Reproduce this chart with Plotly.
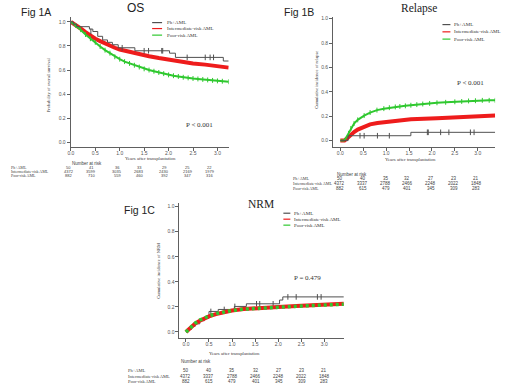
import plotly.graph_objects as go

W, H = 520, 390


def px(x):
    return x / W


def py(y):
    return 1 - y / H


# ---------------- DATA ----------------
groups = ["Ph+AML", "Intermediate-risk AML", "Poor-risk AML"]
x_ticks = [0.0, 0.5, 1.0, 1.5, 2.0, 2.5, 3.0]
y_ticks = [0.0, 0.2, 0.4, 0.6, 0.8, 1.0]

# Fig 1A  OS
os_ph_t = [0, 0.05, 0.12, 0.38, 0.45, 0.55, 0.65, 0.75, 0.85, 0.97, 1.31, 2.02, 2.14, 3.12, 3.23]
os_ph_s = [1.0, 0.98, 0.96, 0.94, 0.92, 0.88, 0.85, 0.83, 0.81, 0.785, 0.76, 0.74, 0.705, 0.675, 0.675]
os_ph_cens_t = [0.41, 1.05, 1.5, 1.59, 1.86, 1.88, 2.38, 2.75, 2.85, 2.92]
os_ph_cens_s = [0.92, 0.785, 0.76, 0.76, 0.76, 0.76, 0.705, 0.705, 0.705, 0.705]
os_int_t = [0, 0.1, 0.2, 0.3, 0.4, 0.5, 0.6, 0.7, 0.8, 0.9, 1.0, 1.2, 1.4, 1.6, 1.8, 2.0, 2.25, 2.5, 2.75, 3.0, 3.23]
os_int_s = [1.0, 0.975, 0.945, 0.915, 0.885, 0.86, 0.84, 0.82, 0.80, 0.785, 0.77, 0.75, 0.73, 0.715, 0.70, 0.685, 0.67, 0.655, 0.645, 0.636, 0.62]
os_poor_t = [0, 0.1, 0.2, 0.3, 0.4, 0.5, 0.6, 0.7, 0.8, 0.9, 1.0, 1.1, 1.2, 1.3, 1.4, 1.5, 1.6, 1.7, 1.8, 1.9, 2.0,
             2.1, 2.2, 2.3, 2.4, 2.5, 2.6, 2.7, 2.8, 2.9, 3.0, 3.1, 3.23]
os_poor_s = [1.0, 0.97, 0.935, 0.895, 0.86, 0.83, 0.795, 0.765, 0.74, 0.71, 0.69, 0.67, 0.655, 0.64, 0.625, 0.61, 0.60,
             0.59, 0.58, 0.57, 0.56, 0.553, 0.547, 0.54, 0.535, 0.53, 0.526, 0.522, 0.518, 0.514, 0.51, 0.507, 0.503]
os_risk = [[50, 41, 36, 33, 29, 25, 22],
           [4372, 3599, 3035, 2683, 2430, 2169, 1979],
           [882, 710, 559, 460, 392, 347, 316]]

# Fig 1B  Relapse
rel_ph_t = [0, 0.17, 1.54, 3.38]
rel_ph_c = [0, 0.04, 0.068, 0.068]
rel_ph_cens_t = [0.43, 0.52, 0.81, 1.07, 1.9, 1.92, 2.19, 2.37, 2.84, 2.92]
rel_ph_cens_c = [0.04, 0.04, 0.04, 0.04, 0.068, 0.068, 0.068, 0.068, 0.068, 0.068]
rel_int_t = [0, 0.09, 0.15, 0.23, 0.3, 0.38, 0.52, 0.65, 0.81, 1.07, 1.3, 1.54, 2.11, 2.7, 3.38]
rel_int_c = [0, 0, 0.02, 0.05, 0.07, 0.09, 0.117, 0.133, 0.145, 0.157, 0.167, 0.175, 0.184, 0.195, 0.206]
rel_poor_t = [0, 0.08, 0.12, 0.18, 0.23, 0.3, 0.38, 0.52, 0.65, 0.8, 0.95, 1.07, 1.2, 1.3, 1.42, 1.54, 1.67, 1.8,
              1.95, 2.11, 2.3, 2.5, 2.65, 2.8, 2.95, 3.1, 3.25, 3.38]
rel_poor_c = [0, 0, 0.02, 0.06, 0.10, 0.14, 0.17, 0.205, 0.23, 0.25, 0.262, 0.27, 0.276, 0.28, 0.285, 0.29, 0.295,
              0.30, 0.305, 0.31, 0.314, 0.318, 0.321, 0.325, 0.327, 0.33, 0.33, 0.33]
rel_risk = [[50, 40, 35, 32, 27, 23, 21],
            [4372, 3337, 2788, 2466, 2248, 2022, 1848],
            [882, 615, 479, 401, 345, 309, 283]]

# Fig 1C  NRM
nrm_ph_t = [0, 0.05, 0.12, 0.2, 0.3, 0.4, 0.5, 0.7, 1.05, 1.31, 2.03, 2.1, 3.42]
nrm_ph_c = [0, 0.02, 0.045, 0.065, 0.09, 0.11, 0.164, 0.18, 0.204, 0.225, 0.255, 0.28, 0.28]
nrm_ph_cens_t = [0.54, 0.83, 1.06, 1.53, 1.6, 1.89, 2.21, 2.39, 2.85, 2.93]
nrm_ph_cens_c = [0.164, 0.18, 0.204, 0.225, 0.225, 0.225, 0.28, 0.28, 0.28, 0.28]
nrm_int_t = [0, 0.1, 0.2, 0.3, 0.4, 0.5, 0.65, 0.8, 1.0, 1.25, 1.5, 1.75, 2.0, 2.5, 3.0, 3.42]
nrm_int_c = [0, 0.035, 0.067, 0.09, 0.11, 0.125, 0.143, 0.158, 0.172, 0.183, 0.19, 0.196, 0.20, 0.21, 0.218, 0.225]
nrm_poor_t = [0, 0.1, 0.2, 0.3, 0.4, 0.5, 0.65, 0.8, 1.0, 1.25, 1.5, 1.75, 2.0, 2.5, 3.0, 3.42]
nrm_poor_c = [0, 0.04, 0.07, 0.095, 0.113, 0.128, 0.146, 0.16, 0.172, 0.182, 0.188, 0.194, 0.198, 0.207, 0.215, 0.222]
nrm_risk = [[50, 40, 35, 32, 27, 23, 21],
            [4372, 3337, 2788, 2466, 2248, 2022, 1848],
            [882, 615, 479, 401, 345, 309, 283]]

# ---------------- STYLE ----------------
C_BLACK = "#505050"
C_RED = "#ee1c1c"
C_GREEN = "#2fc82f"
AXIS_C = "#606060"
TXT = "#404040"
SERIF = "Liberation Serif"
SANS = "Liberation Sans"

fig = go.Figure()


def line(xa, ya, t, v, color, width, shape="linear", dash=None):
    fig.add_trace(go.Scatter(x=t, y=v, xaxis=xa, yaxis=ya, mode="lines",
                             line=dict(color=color, width=width, shape=shape, dash=dash),
                             showlegend=False, hoverinfo="skip"))


def ticks(xa, ya, t, v, color, size=4):
    fig.add_trace(go.Scatter(x=t, y=v, xaxis=xa, yaxis=ya, mode="markers",
                             marker=dict(symbol="line-ns", size=size,
                                         line=dict(color=color, width=1)),
                             showlegend=False, hoverinfo="skip"))


# Panel A
line("x", "y", os_int_t, os_int_s, C_RED, 4)
line("x", "y", os_poor_t, os_poor_s, C_GREEN, 2)
ticks("x", "y", os_poor_t[1:], os_poor_s[1:], C_GREEN, 3.5)
line("x", "y", os_ph_t, os_ph_s, C_BLACK, 1, shape="hv")
ticks("x", "y", os_ph_cens_t, os_ph_cens_s, C_BLACK)

# Panel B
line("x2", "y2", rel_int_t, rel_int_c, C_RED, 4)
line("x2", "y2", rel_poor_t, rel_poor_c, C_GREEN, 2)
ticks("x2", "y2", rel_poor_t[3:], rel_poor_c[3:], C_GREEN, 3.5)
line("x2", "y2", rel_ph_t, rel_ph_c, C_BLACK, 1, shape="hv")
ticks("x2", "y2", rel_ph_cens_t, rel_ph_cens_c, C_BLACK)

# Panel C
line("x3", "y3", nrm_ph_t, nrm_ph_c, C_BLACK, 1, shape="hv")
ticks("x3", "y3", nrm_ph_cens_t, nrm_ph_cens_c, C_BLACK)
line("x3", "y3", nrm_int_t, nrm_int_c, C_RED, 4)
line("x3", "y3", nrm_poor_t, nrm_poor_c, C_GREEN, 3.5, dash="3px,3px")

axis_common = dict(showline=True, linecolor=AXIS_C, linewidth=1, ticks="outside", ticklen=3,
                   tickwidth=1, tickcolor=AXIS_C, showgrid=False, zeroline=False,
                   tickfont=dict(family=SANS, size=5, color="#555"), tickformat=".1f")
xaxis_common = dict(axis_common, ticklabelstandoff=-2)

fig.update_layout(
    width=W, height=H, margin=dict(l=0, r=0, t=0, b=0),
    paper_bgcolor="white", plot_bgcolor="rgba(0,0,0,0)", showlegend=False,
    xaxis=dict(domain=[px(68), px(227)], range=[-0.005, 3.23], tickvals=x_ticks, anchor="y", **xaxis_common),
    yaxis=dict(domain=[py(146), py(15)], range=[-0.041, 1.041], tickvals=y_ticks, anchor="x", **axis_common),
    xaxis2=dict(domain=[px(332), px(495)], range=[-0.158, 3.38], tickvals=x_ticks, anchor="y2", **xaxis_common),
    yaxis2=dict(domain=[py(145.7), py(15)], range=[-0.052, 1.014], tickvals=y_ticks, anchor="x2", **axis_common),
    xaxis3=dict(domain=[px(177.5), px(343)], range=[-0.14, 3.427], tickvals=x_ticks, anchor="y3", **xaxis_common),
    yaxis3=dict(domain=[py(338), py(201.7)], range=[-0.05, 1.032], tickvals=y_ticks, anchor="x3", **axis_common),
)

ann = []


def text(x, y, s, size, family=SANS, color=TXT, xanchor="center", angle=0):
    ann.append(dict(x=px(x), y=py(y), xref="paper", yref="paper", text=s, showarrow=False,
                    xanchor=xanchor, yanchor="middle", textangle=angle, borderpad=0,
                    font=dict(family=family, size=size, color=color)))


# titles
text(33, 10, "Fig 1A", 10.5, SANS, "#222")
text(298, 10, "Fig 1B", 10.5, SANS, "#222")
text(137, 209, "Fig 1C", 10.5, SANS, "#222")
text(133, 6, "OS", 12, SANS, "#222")
text(418, 7, "Relapse", 11.5, SERIF, "#222")
text(259, 203, "NRM", 11.5, SERIF, "#222")

# p values
text(198, 124, "P &lt; 0.001", 7, SERIF, "#333")
text(470, 81, "P &lt; 0.001", 7, SERIF, "#333")
text(306, 277, "P = 0.479", 7, SERIF, "#333")

# axis titles
text(46, 83, "Probability of overall survival", 4.5, SERIF, TXT, angle=-90)
text(315, 78, "Cumulative incidence of relapse", 4.5, SERIF, TXT, angle=-90)
text(157, 270, "Cumulative incidence of NRM", 4.5, SERIF, TXT, angle=-90)
text(148, 157.5, "Years after transplantation", 4.8, SERIF, TXT)
text(410, 158.5, "Years after transplantation", 4.8, SERIF, TXT)
text(233, 353.5, "Years after transplantation", 4.8, SERIF, TXT)

# legends
shapes = []
leg_colors = [C_BLACK, C_RED, C_GREEN]


def legend(x0, x1, xt, ys):
    for g, c, yy in zip(groups, leg_colors, ys):
        shapes.append(dict(type="line", xref="paper", yref="paper", x0=px(x0), x1=px(x1),
                           y0=py(yy), y1=py(yy), line=dict(color=c, width=1.2)))
        text(xt, yy, g, 5, SERIF, "#333", xanchor="left")


legend(150, 160, 164, [20.7, 26.7, 33.3])
legend(442, 450, 453, [22.7, 30, 37.3])
legend(282, 289, 292, [212.3, 218.3, 224.3])


# number at risk tables
def risk_table(nx, ny, lx, rows_y, cols_x, data, lsize=4.5, nsize=4.5):
    text(nx, ny, "Number at risk", 4.5, SANS, TXT, xanchor="left")
    for g, yy, vals in zip(groups, rows_y, data):
        text(lx, yy, g, lsize, SERIF, TXT, xanchor="left")
        for xx, v in zip(cols_x, vals):
            text(xx, yy, str(v), nsize, SANS, TXT)


risk_table(68, 162.5, 7, [166.8, 170.8, 174.8], [66, 89, 115, 137, 162, 186, 208], os_risk, 4.0, 4.0)
risk_table(335, 173.3, 291, [177.7, 182.7, 187.3], [338.5, 361.7, 385, 406.7, 430, 453.3, 476], rel_risk, 4.2)
risk_table(178, 361, 125, [370, 376, 381.7], [184, 206.7, 230.7, 254, 277.3, 300.7, 323.3], nrm_risk)

fig.update_layout(annotations=ann, shapes=shapes)

fig.write_html("out.html", config={"displayModeBar": False, "staticPlot": True},
               post_script="document.body.style.margin='0px';document.body.style.padding='0px';")
